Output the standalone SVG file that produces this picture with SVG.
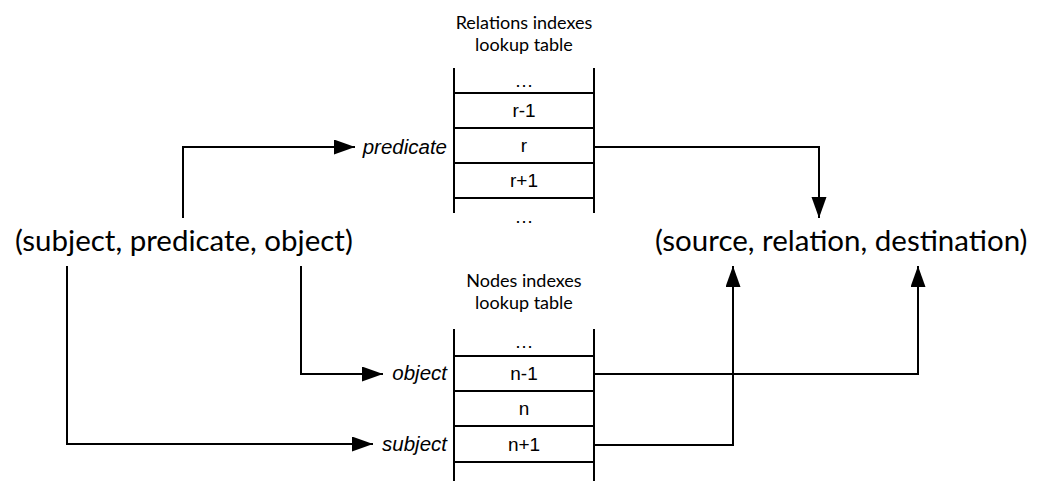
<svg xmlns="http://www.w3.org/2000/svg" width="1040" height="481" viewBox="0 0 1040 481">
<style>
.ln{stroke:#000;stroke-width:2;fill:none}
.cn{stroke:#000;stroke-width:2;fill:none;marker-end:url(#ah)}
.big{font-family:Lato,"Liberation Sans",sans-serif;font-size:29.5px;fill:#000}
.ttl{font-family:Lato,"Liberation Sans",sans-serif;font-size:18px;fill:#000;text-anchor:middle}
.cell{font-family:"Liberation Sans",Arial,sans-serif;font-size:19px;fill:#000;text-anchor:middle}
.lbl{font-family:"Liberation Sans",Arial,sans-serif;font-size:20.5px;font-style:italic;fill:#000;text-anchor:end}
</style>
<defs>
<marker id="ah" markerUnits="userSpaceOnUse" markerWidth="23" markerHeight="16" refX="21" refY="7.5" orient="auto">
<path d="M0,0 L21,7.5 L0,15 Z" fill="#000"/>
</marker>
</defs>
<rect width="1040" height="481" fill="#fff"/>
<g id="triple">
<text class="big" x="15" y="251">(subject, predicate, object)</text>
</g>
<g id="result">
<text class="big" x="655" y="251">(source, relation, destination)</text>
</g>
<g id="relations-table">
<text class="ttl" x="524" y="29">Relations indexes</text>
<text class="ttl" x="524" y="51">lookup table</text>
<path class="ln" d="M454,68 V213 M594,68 V213 M454,93 H594 M454,128 H594 M454,163 H594 M454,198 H594"/>
<text class="cell" x="524" y="87">…</text>
<text class="cell" x="524" y="117">r-1</text>
<text class="cell" x="524" y="152">r</text>
<text class="cell" x="524" y="187">r+1</text>
<text class="cell" x="524" y="223">…</text>
</g>
<g id="nodes-table">
<text class="ttl" x="524" y="287">Nodes indexes</text>
<text class="ttl" x="524" y="309">lookup table</text>
<path class="ln" d="M454,329 V481 M594,329 V481 M454,356 H594 M454,391 H594 M454,426 H594 M454,462 H594"/>
<text class="cell" x="524" y="348">…</text>
<text class="cell" x="524" y="380">n-1</text>
<text class="cell" x="524" y="415">n</text>
<text class="cell" x="524" y="451">n+1</text>
</g>
<g id="labels">
<text class="lbl" x="447" y="154">predicate</text>
<text class="lbl" x="447" y="380">object</text>
<text class="lbl" x="447" y="451">subject</text>
</g>
<g id="connectors">
<path class="cn" d="M183,218 V147 H355"/>
<path class="cn" d="M301,266 V374 H383"/>
<path class="cn" d="M67,266 V444 H373"/>
<path class="cn" d="M594,147 H819 V218"/>
<path class="cn" d="M594,374 H918 V266"/>
<path class="cn" d="M594,445 H733 V266"/>
</g>
</svg>
